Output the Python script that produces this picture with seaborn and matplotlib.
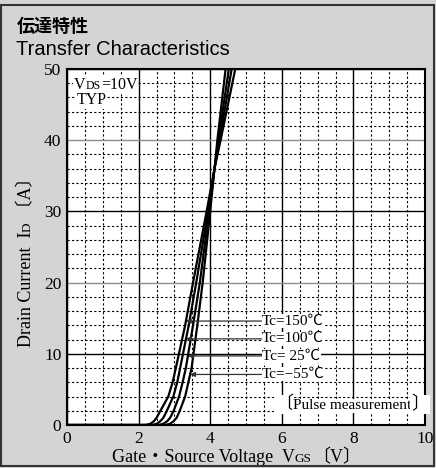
import numpy as np
import pandas as pd
import matplotlib
matplotlib.use("Agg")
import matplotlib.pyplot as plt
import matplotlib.patches as patches
import seaborn as sns

current = [0, 0, 0.15, 0.5, 1, 2, 4, 6, 8, 14, 20, 30, 36, 40, 50, 55]
# gate-source voltage of each curve at those currents (V)
vgs_150 = [0, 2.20, 2.32, 2.42, 2.50, 2.61, 2.83, 2.95, 3.04, 3.30, 3.52, 3.90, 4.12, 4.29, 4.70, 4.91]
vgs_100 = [0, 2.38, 2.50, 2.60, 2.69, 2.79, 2.97, 3.08, 3.16, 3.40, 3.61, 3.94, 4.12, 4.26, 4.60, 4.77]
vgs_25 = [0, 2.56, 2.68, 2.79, 2.88, 2.98, 3.13, 3.23, 3.32, 3.52, 3.71, 3.97, 4.12, 4.23, 4.52, 4.67]
vgs_m55 = [0, 2.74, 2.87, 2.97, 3.06, 3.15, 3.30, 3.39, 3.48, 3.64, 3.79, 4.00, 4.12, 4.20, 4.43, 4.57]
temps = ["Tc=150℃", "Tc=100℃", "Tc= 25℃", "Tc=−55℃"]

# current where each label arrow sits
label_current = [14.6, 12.1, 9.7, 7.1]

BG = "#d4d4d4"
SERIF = ["Liberation Serif", "Noto Sans CJK JP"]
plt.rcParams["font.family"] = SERIF

curves = [vgs_150, vgs_100, vgs_25, vgs_m55]
df = pd.concat([pd.DataFrame({"vgs": v, "id": current, "tc": t}) for v, t in zip(curves, temps)])

W, H = 436, 468
fig = plt.figure(figsize=(W / 100, H / 100), dpi=100, facecolor=BG)
ax = fig.add_axes([67 / W, 1 - 425 / H, 358 / W, 356 / H])
ax.set_facecolor("white")

sns.lineplot(data=df, x="vgs", y="id", hue="tc", palette=["black"] * 4, estimator=None,
             sort=False, legend=False, lw=1.6, ax=ax, zorder=3)

ax.set_xlim(0, 10)
ax.set_ylim(0, 50)
ax.set_xlabel("")
ax.set_ylabel("")
ax.set_xticks(np.arange(0, 10.1, 2))
ax.set_xticks(np.arange(0, 10.1, 0.5), minor=True)
ax.set_yticks(np.arange(0, 50.1, 10))
ax.set_yticks(np.arange(0, 50.1, 2), minor=True)
ax.tick_params(which="both", length=0, labelsize=12.5, pad=4)
ax.grid(which="minor", color="black", lw=0.8, ls=(0, (2, 2)))
ax.grid(which="major", color="black", lw=1.0)
ax.set_axisbelow(True)
for s in ax.spines.values():
    s.set_linewidth(1.5)
    s.set_color("black")
# a few major lines print lighter in the original
for t in ax.xaxis.get_major_ticks():
    if np.isclose(t.get_loc(), 4):
        t.gridline.set_color("#8c8c8c")
for t in ax.yaxis.get_major_ticks():
    if np.isclose(t.get_loc(), 10) or np.isclose(t.get_loc(), 30):
        t.gridline.set_color("#8c8c8c")

white = dict(fc="white", ec="none", pad=0.6)


def chain(pieces, xy, coords, rotation=0, box=None):
    # pieces share one baseline; each starts where the previous one ends
    prev = None
    for text, size in pieces:
        kw = dict(fontsize=size, family=SERIF, annotation_clip=False, bbox=box, zorder=5,
                  ha="left", va="baseline")
        if rotation:
            kw.update(rotation=90, rotation_mode="anchor")
        if prev is None:
            prev = ax.annotate(text, xy, xycoords=coords, **kw)
        elif rotation:
            prev = ax.annotate(text, (xy[0], 1), xycoords=(coords, prev), **kw)
        else:
            prev = ax.annotate(text, (1, xy[1]), xycoords=(prev, coords), **kw)


# axis labels with small-cap subscripts
chain([("Drain Current  I", 13), ("D", 9.5), (" 〔A〕", 13)], (31, H - 347), "figure pixels", rotation=90)
chain([("Gate・Source Voltage  V", 13), ("GS", 9.5), ("〔V〕", 13)], (112, H - 462.5), "figure pixels")

# condition notes
chain([("V", 11.5), ("DS", 8.5), ("=10V", 11.5)], (0.2, 47.2), "data", box=white)
ax.annotate("TYP", (0.27, 45.1), fontsize=11.5, family=SERIF, ha="left", va="baseline",
            bbox=white, zorder=5)
chain([("〔", 13), ("Pulse measurement", 11), ("〕", 13)], (5.81, 2.2), "data", box=white)

# temperature labels with arrows to their curve
for t, v, cur in zip(temps, curves, label_current):
    tip = np.interp(cur, current[1:], v[1:])
    ax.annotate(t, xy=(tip, cur), xytext=(5.45, cur), ha="left", va="center", fontsize=11,
                family=SERIF, bbox=dict(fc="white", ec="none", pad=0.3), zorder=5,
                arrowprops=dict(arrowstyle="-|>", color="#333333", lw=0.9, shrinkA=0,
                                shrinkB=0, mutation_scale=7))

# headers
fig.text(17 / W, 1 - 32 / H, "伝達特性", fontsize=13, weight="bold", family=["Noto Sans CJK JP"],
         va="baseline")
fig.text(16 / W, 1 - 55 / H, "Transfer Characteristics", fontsize=14.5, family=["Liberation Sans"],
         va="baseline")

fig.patches.append(patches.Rectangle((0.003, 0.004), 0.993, 0.985, transform=fig.transFigure,
                                     fill=False, ec="#333333", lw=1.5))

fig.savefig("out.png", dpi=100, facecolor=BG)
